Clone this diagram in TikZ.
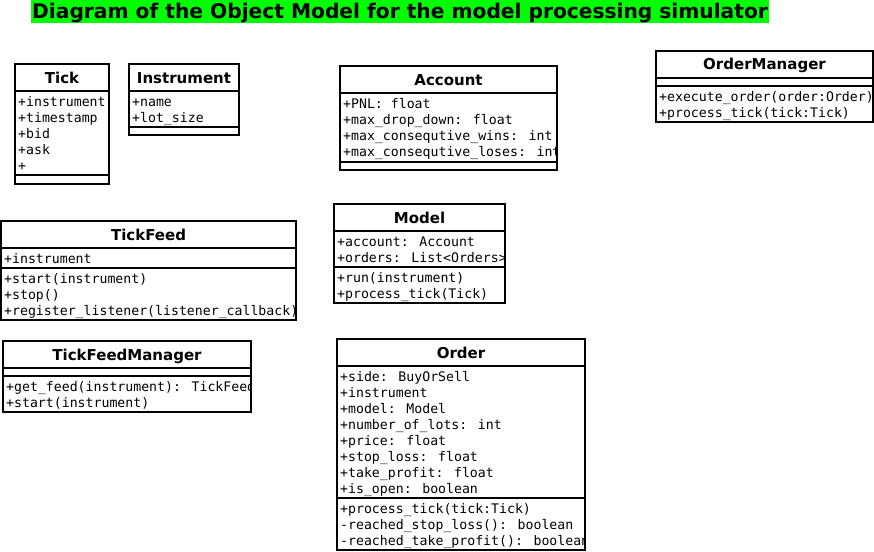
\documentclass[tikz,border=0pt]{standalone}
\usepackage{fontspec}
\newfontfamily\umlsans{DejaVu Sans}
\newfontfamily\umlmono{DejaVu Sans Mono}
\tikzset{
  umlbox/.style={draw, line width=1.8pt},
  umltitle/.style={anchor=base, inner sep=0pt, font=\umlsans\bfseries\fontsize{15}{18}\selectfont},
  umlmember/.style={anchor=base west, inner sep=0pt, font=\umlmono\fontsize{13.2}{16}\selectfont},
  heading/.style={anchor=base west, fill=green, inner xsep=1pt, inner ysep=0pt, text height=19pt, text depth=4.3pt, font=\umlsans\bfseries\fontsize{20.2}{24}\selectfont}
}
\begin{document}
\begin{tikzpicture}[x=1pt,y=-1pt]
\useasboundingbox (0,0) rectangle (874,551);
\node[heading] (title) at (31,19) {Diagram of the Object Model for the model processing simulator};
% Tick
\begin{scope}
\clip (15,64) rectangle (109,184);
\node[umltitle] (tick) at (62,83) {Tick};
\foreach \m [count=\i] in {+instrument,+timestamp,+bid,+ask,+}
{
    \node[umlmember] (tick-a\i) at (18,90.5+16*\i) {\m};
}
\end{scope}
\draw[umlbox] (15,64) rectangle (109,184) (15,91)--(109,91) (15,175)--(109,175);
% Instrument
\begin{scope}
\clip (129,64) rectangle (239,135);
\node[umltitle] (instrument) at (184,83) {Instrument};
\foreach \m [count=\i] in {+name,+lot\_size}
{
    \node[umlmember] (instrument-a\i) at (132,90.5+16*\i) {\m};
}
\end{scope}
\draw[umlbox] (129,64) rectangle (239,135) (129,91)--(239,91) (129,127)--(239,127);
% Account
\begin{scope}
\clip (340,66) rectangle (557,170);
\node[umltitle] (account) at (448.5,85) {Account};
\foreach \m [count=\i] in {+PNL: float,+max\_drop\_down: float,+max\_consequtive\_wins: int,+max\_consequtive\_loses: int}
{
    \node[umlmember] (account-a\i) at (343,92.5+16*\i) {\m};
}
\end{scope}
\draw[umlbox] (340,66) rectangle (557,170) (340,93)--(557,93) (340,162)--(557,162);
% OrderManager
\begin{scope}
\clip (656,51) rectangle (873,122);
\node[umltitle] (ordermanager) at (764.5,69.5) {OrderManager};
\foreach \m [count=\i] in {+execute\_order(order:Order),+process\_tick(tick:Tick)}
{
    \node[umlmember] (ordermanager-m\i) at (659,86+15.5*\i) {\m};
}
\end{scope}
\draw[umlbox] (656,51) rectangle (873,122) (656,78)--(873,78) (656,86)--(873,86);
% TickFeed
\begin{scope}
\clip (1,221) rectangle (296,320);
\node[umltitle] (tickfeed) at (148.5,240) {TickFeed};
\node[umlmember] (tickfeed-a1) at (4,263.5) {+instrument};
\foreach \m [count=\i] in {+start(instrument),+stop(),+register\_listener(listener\_callback)}
{
    \node[umlmember] (tickfeed-m\i) at (4,267.5+16*\i) {\m};
}
\end{scope}
\draw[umlbox] (1,221) rectangle (296,320) (1,248)--(296,248) (1,268)--(296,268);
% TickFeedManager
\begin{scope}
\clip (3,341) rectangle (251,412);
\node[umltitle] (tickfeedmanager) at (127,360) {TickFeedManager};
\foreach \m [count=\i] in {+get\_feed(instrument): TickFeed,+start(instrument)}
{
    \node[umlmember] (tickfeedmanager-m\i) at (6,375.5+16*\i) {\m};
}
\end{scope}
\draw[umlbox] (3,341) rectangle (251,412) (3,368)--(251,368) (3,376)--(251,376);
% Model
\begin{scope}
\clip (334,204) rectangle (505,303);
\node[umltitle] (model) at (419.5,223) {Model};
\foreach \m [count=\i] in {+account: Account,+orders: List<Orders>}
{
    \node[umlmember] (model-a\i) at (337,230.5+16*\i) {\m};
}
\foreach \m [count=\i] in {+run(instrument),+process\_tick(Tick)}
{
    \node[umlmember] (model-m\i) at (337,266.5+16*\i) {\m};
}
\end{scope}
\draw[umlbox] (334,204) rectangle (505,303) (334,231)--(505,231) (334,267)--(505,267);
% Order
\begin{scope}
\clip (337,339) rectangle (585,550);
\node[umltitle] (order) at (461,358) {Order};
\foreach \m [count=\i] in {+side: BuyOrSell,+instrument,+model: Model,+number\_of\_lots: int,+price: float,+stop\_loss: float,+take\_profit: float,+is\_open: boolean}
{
    \node[umlmember] (order-a\i) at (340,365.5+16*\i) {\m};
}
\foreach \m [count=\i] in {+process\_tick(tick:Tick),-reached\_stop\_loss(): boolean,-reached\_take\_profit(): boolean}
{
    \node[umlmember] (order-m\i) at (340,497.5+16*\i) {\m};
}
\end{scope}
\draw[umlbox] (337,339) rectangle (585,550) (337,366)--(585,366) (337,498)--(585,498);
\end{tikzpicture}
\end{document}
